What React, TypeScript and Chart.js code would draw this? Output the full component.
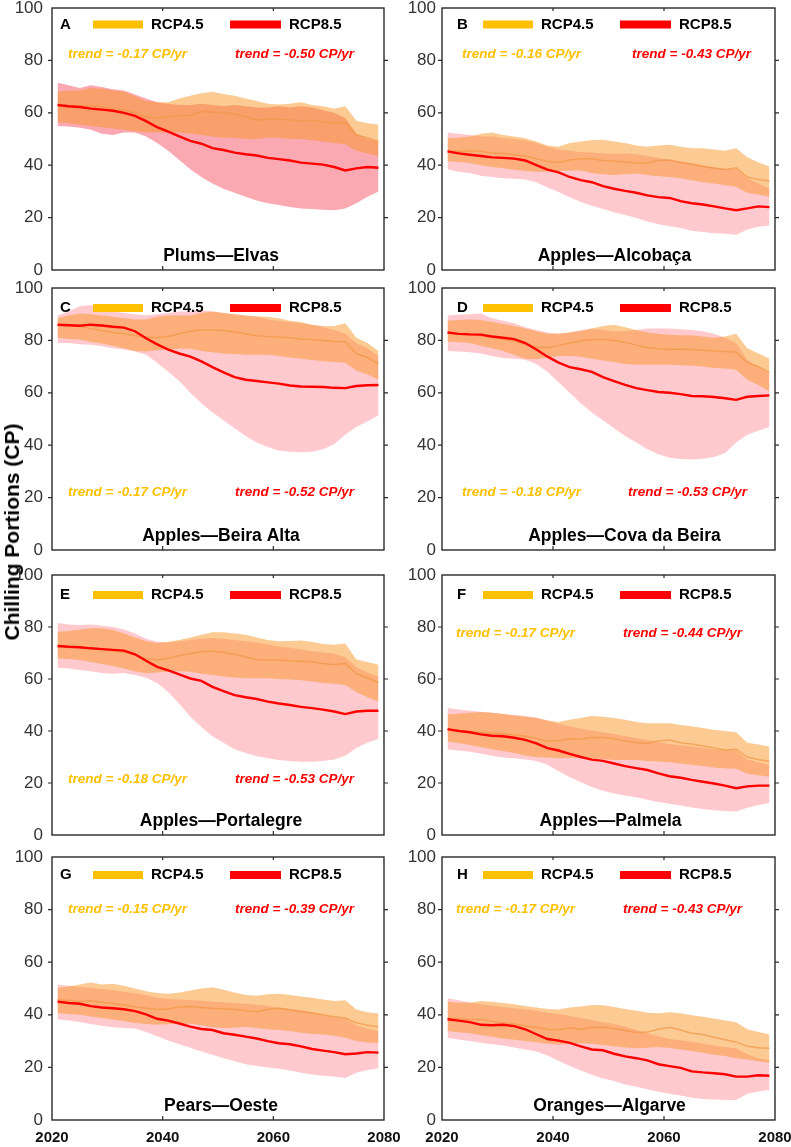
import React, { useEffect, useRef } from "react";
import { Chart, registerables } from "chart.js";
Chart.register(...registerables);

// ---------- DATA ----------
const years = [2021, 2023, 2025, 2027, 2029, 2031, 2033, 2035, 2037, 2039, 2041, 2043, 2045, 2047, 2049, 2051, 2053, 2055, 2057, 2059, 2061, 2063, 2065, 2067, 2069, 2071, 2073, 2075, 2077, 2079];
const xTickValues = [2020, 2040, 2060, 2080];
const yTickValues = [0, 20, 40, 60, 80, 100];

// A  Plums—Elvas
const aMid85 = [63, 62.5, 62.2, 61.6, 61.2, 60.8, 60, 58.8, 56.8, 54.5, 52.8, 51, 49.3, 48.2, 46.5, 45.8, 44.8, 44.2, 43.7, 42.8, 42.3, 41.8, 41, 40.6, 40.2, 39.3, 38, 38.8, 39.3, 39];
const aHigh85 = [71.5, 70.5, 69.5, 70.5, 69.8, 69, 68.5, 67, 65.5, 64, 63.5, 63, 63, 63.5, 63, 62.5, 63, 62.5, 62, 62, 62.5, 62, 62.5, 62, 61, 60, 58, 52, 50, 49];
const aLow85 = [55, 54.8, 54.3, 53.5, 52, 51.5, 52.5, 52.5, 51, 48.5, 45.5, 42, 38.5, 35.5, 33, 31, 29.5, 28, 26.5, 25.5, 24.8, 24, 23.5, 23.3, 23, 22.8, 23.5, 25.5, 28, 30];
const aMid45 = [62.8, 62.5, 62.5, 62.8, 62.3, 61.5, 61, 60, 58.5, 58, 58.5, 59, 59, 60.5, 60.3, 60, 59.5, 58.5, 57.3, 57.5, 57.5, 57.3, 57, 57.2, 56.5, 56, 56.3, 51.5, 50.5, 49];
const aHigh45 = [68, 68.5, 68.5, 69.5, 69.3, 68.5, 68, 66.5, 64.5, 64, 64, 65.5, 66.5, 67.5, 68, 67.2, 66.5, 65.5, 64.5, 63.5, 63.2, 63.5, 64, 63, 62.5, 61.5, 62.5, 57, 56, 55.5];
const aLow45 = [56.5, 56, 55.5, 55, 54.5, 54, 53.5, 53, 52.5, 52.5, 52.5, 52.5, 52, 51.5, 51, 50.5, 50.5, 50, 50, 50.5, 50.5, 50, 50, 49.5, 49, 48.5, 48, 45.5, 44.5, 43.5];

// B  Apples—Alcobaça
const bMid85 = [45.3, 44.5, 44, 43.5, 43, 42.8, 42.5, 41.8, 40, 38.3, 37.3, 35.5, 34.3, 33.5, 32, 31, 30.2, 29.5, 28.5, 27.8, 27.5, 26.3, 25.5, 25, 24.3, 23.5, 22.8, 23.5, 24.3, 24];
const bHigh85 = [52.5, 52, 51.5, 51, 51, 50.5, 50, 49.5, 48.5, 47, 46, 45.5, 45, 44.8, 44.5, 44.5, 44.5, 44.2, 43.5, 42.8, 42, 41.5, 40.8, 40, 39.3, 38.7, 38.5, 35, 33, 31];
const bLow85 = [38.5, 37.5, 37, 36, 35.5, 35, 34.8, 34.5, 33.5, 31.5, 29.8, 27.8, 26, 24.5, 23.3, 22, 21, 19.8, 18.5, 17.5, 16.7, 16, 15, 14.5, 14, 13.8, 13.5, 15.5, 16.5, 17];
const bMid45 = [45.3, 45.3, 45.5, 45.3, 44.7, 44.5, 44, 43.5, 42.5, 41.5, 41, 42, 42.5, 42.5, 41.8, 41.5, 41.2, 40.8, 40.8, 41.8, 42, 41, 40.3, 39.5, 38.8, 38.3, 39, 35.5, 34.5, 34];
const bHigh45 = [50.3, 50.5, 51, 52, 52.5, 51.5, 51, 50.3, 49, 47.5, 47, 48.5, 49, 49.5, 49.7, 49, 48.5, 47.5, 47, 47.5, 47.8, 47, 46.5, 46.5, 46, 45.5, 46.5, 43, 41, 39.5];
const bLow45 = [41.5, 41.2, 40.8, 40, 39.3, 38.8, 38.3, 37.8, 37.5, 37.5, 37.8, 38, 38, 37, 36.5, 36.3, 36.5, 36.8, 36.3, 35.8, 35.5, 35, 34.3, 33.5, 33, 32.3, 31.8, 29.5, 28.8, 28];

// C  Apples—Beira Alta
const cMid85 = [86, 85.8, 85.6, 86, 85.7, 85.2, 84.9, 83.5, 80.8, 78.5, 76.5, 75, 73.8, 72, 69.8, 67.8, 66, 65, 64.5, 64, 63.5, 62.8, 62.4, 62.3, 62.2, 61.9, 61.8, 62.6, 62.9, 63];
const cHigh85 = [89.5, 91, 93, 93.5, 92, 91, 90.5, 90, 89.5, 90, 90.5, 91, 91, 91.5, 91, 90.5, 90, 89.5, 89, 88, 87.5, 87, 86.5, 86, 85, 84, 82.5, 79, 77, 74];
const cLow85 = [79, 79, 78.5, 78.3, 77.8, 77, 76.5, 75.8, 74.5, 71.5, 68, 64.5, 60, 56, 52.5, 49.5, 46.5, 43.5, 41, 39.3, 38, 37.5, 37.3, 37.5, 38.5, 40.5, 44, 47, 49, 51.5];
const cMid45 = [86, 85.8, 85.4, 84.5, 83.8, 83, 82.5, 81.8, 81.3, 81, 81.5, 82.5, 83.5, 84, 84, 83.8, 83.2, 82.5, 81.8, 81.5, 81.3, 81, 80.5, 80.3, 80, 79.6, 79.5, 75, 73.5, 71];
const cHigh45 = [88.5, 89.5, 90.3, 90, 89.5, 89, 88.5, 88, 88, 89, 89.5, 89.5, 89.5, 90.5, 91, 90.5, 90, 89.5, 89.2, 89, 88.5, 87.5, 87, 86, 85.5, 85.5, 86.5, 81, 79, 76];
const cLow45 = [81, 80.5, 80.3, 79.5, 78.8, 78, 77, 76, 75.8, 76.2, 76.5, 76.8, 76.8, 76, 75.5, 75, 74.8, 74.5, 74.5, 74.5, 74, 73.5, 73, 72.5, 72, 71.8, 71.5, 68.5, 67, 65];

// D  Apples—Cova da Beira
const dMid85 = [83, 82.5, 82.3, 82.2, 81.5, 81, 80.5, 79, 76.5, 73.8, 71.5, 69.8, 69, 68, 66, 64.5, 63, 61.8, 61, 60.3, 60, 59.5, 58.8, 58.7, 58.4, 57.9, 57.3, 58.5, 58.8, 59];
const dHigh85 = [89.5, 89.8, 90, 90.3, 88.5, 87.5, 86.5, 85, 84, 83, 82.5, 83, 84, 84.5, 84, 83.5, 83.5, 84, 84.5, 84.5, 84.5, 84.3, 84, 83.5, 82.5, 81, 79, 72.5, 70, 67.5];
const dLow85 = [76, 75.8, 75.5, 75, 74, 73.3, 73, 72.6, 71, 68, 64, 60, 56, 52.5, 49.5, 46.5, 43.5, 41, 38.5, 36.5, 35.2, 34.7, 34.5, 34.8, 35.5, 37, 41, 44, 45.5, 47];
const dMid45 = [82.8, 82.5, 82.2, 81.8, 81.2, 80.5, 79.8, 78.5, 77.5, 77.2, 78, 79, 79.8, 80.3, 80.3, 80, 79.3, 78.2, 77.2, 76.8, 76.5, 76.7, 76.5, 76.2, 76, 75.8, 75.5, 71.5, 70, 67.8];
const dHigh45 = [87.5, 87.8, 88, 87.8, 87, 86.3, 85.5, 84.5, 83.5, 82.5, 82.5, 83, 83.5, 84.5, 85.5, 86, 85, 84, 83, 82.5, 82.2, 82, 82, 81.5, 81, 81.5, 82.5, 77, 75, 73];
const dLow45 = [79.6, 79.3, 79, 78, 77, 76, 74.5, 73, 72.8, 73.5, 74, 74, 73.8, 73, 72.3, 71.8, 71, 70.7, 70.7, 70.7, 70.7, 70.5, 70.3, 70, 69.5, 69.3, 68.8, 65, 63, 60.5];

// E  Apples—Portalegre
const eMid85 = [72.7, 72.4, 72.2, 71.8, 71.5, 71.2, 70.9, 69.5, 67, 64.7, 63.3, 61.8, 60.2, 59.3, 57, 55.3, 53.8, 53, 52.3, 51.3, 50.6, 50, 49.3, 48.8, 48.2, 47.5, 46.5, 47.5, 47.8, 47.8];
const eHigh85 = [81.5, 81, 80.8, 81, 80.5, 80, 79, 77.5, 75.5, 74.3, 74, 74.5, 75, 75.5, 75.8, 75.5, 75, 74.5, 74, 73.5, 72.5, 72, 71.3, 70.7, 70.2, 69.7, 68.5, 64.5, 62.5, 61];
const eLow85 = [64.3, 64, 63.5, 63, 62.3, 62, 62.3, 61.5, 60.5, 58.5, 55, 50.5, 45.5, 41.5, 38, 35.5, 33, 31.5, 30.3, 29.5, 28.8, 28.5, 28.2, 28.2, 28.5, 29, 30.5, 33.5, 35.5, 37];
const eMid45 = [72.5, 72.3, 72.2, 71.8, 71.3, 70.8, 70.3, 69.3, 67.8, 67.3, 68, 69, 69.8, 70.5, 70.8, 70.2, 69.5, 68.5, 67.5, 67.3, 67.3, 67, 66.8, 66.6, 66, 65.5, 66, 62, 60.5, 58.5];
const eHigh45 = [78.2, 78.5, 79, 79.5, 79.5, 78.8, 77.5, 76, 74.5, 73.8, 74.3, 75, 76, 77, 78, 78, 77.5, 77, 76, 75, 74.5, 74.6, 74.8, 74.2, 73.5, 73.2, 73.7, 67.5, 66.5, 65.5];
const eLow45 = [68, 67.7, 67.3, 66.5, 65.8, 65, 64, 63, 62.2, 62.5, 62.8, 63, 62.8, 62, 61.5, 61, 60.6, 60.3, 60.3, 60.3, 60, 59.8, 59.5, 59, 58.5, 58.2, 57.7, 55, 53, 51.3];

// F  Apples—Palmela
const fMid85 = [40.7, 40, 39.5, 38.7, 38.2, 38, 37.4, 36.6, 35.2, 33.4, 32.5, 31.2, 30, 29, 28.5, 27.5, 26.5, 25.7, 25, 23.7, 22.6, 22, 21.2, 20.5, 19.8, 19, 18, 18.7, 19, 19];
const fHigh85 = [48.8, 48.3, 47.8, 47.4, 47, 46.5, 46.2, 45.8, 45.2, 44, 42.8, 41.8, 41, 40.2, 39.5, 38.8, 38, 37.3, 36.5, 35.8, 35, 34.5, 34, 33.5, 33, 32.7, 32.5, 29, 28, 27];
const fLow85 = [33, 32.5, 32, 31.3, 30.5, 29.8, 29.5, 29, 28.5, 27, 24.5, 22.3, 20.3, 18.5, 17, 16, 15.2, 14.5, 13.6, 12.7, 12, 11.3, 10.6, 10, 9.5, 9.2, 9, 10.5, 11.5, 12.3];
const fMid45 = [40.5, 40.2, 39.8, 39.5, 39.2, 38.9, 38.5, 38, 37.2, 36, 36.3, 37, 36.8, 37.5, 37.5, 37, 36.2, 35.5, 35.3, 36.2, 36.5, 35.5, 35, 34.2, 33.5, 32.7, 33, 30, 29, 28.3];
const fHigh45 = [46.3, 46.6, 47, 47.3, 47, 46.5, 46, 45.5, 45, 44, 43.5, 44.3, 45, 45.8, 45.5, 45, 44.3, 43.5, 43, 43, 43, 42.3, 41.8, 41.2, 40.5, 40, 39.5, 35.5, 34.8, 34];
const fLow45 = [36, 35.4, 34.6, 33.8, 33, 32.3, 31.5, 30.6, 30, 29.8, 29.5, 29.6, 29.8, 29.5, 29.1, 28.8, 28.8, 28.8, 28.5, 28.3, 28, 27.5, 27, 26.5, 26, 25.6, 25.5, 23.7, 23, 22.4];

// G  Pears—Oeste
const gMid85 = [45, 44.5, 44.2, 43.3, 42.8, 42.5, 42.1, 41.4, 40.2, 38.5, 37.8, 36.7, 35.5, 34.6, 34.2, 33, 32.4, 31.7, 31, 30, 29.2, 28.8, 28, 27, 26.4, 25.8, 25, 25.3, 25.8, 25.6];
const gHigh85 = [51.5, 51, 50.6, 50.2, 49.8, 49.4, 48.8, 48.2, 47.5, 46.5, 46, 45.8, 45.6, 45.3, 45, 44.8, 44.5, 44.2, 43.8, 43.3, 42.8, 42.3, 41.8, 41, 40, 39.2, 38.5, 36, 34.8, 33.8];
const gLow85 = [38.3, 37.8, 37.3, 36.5, 35.8, 35.3, 35, 34.8, 33.5, 31.8, 30.2, 28.8, 27.5, 26, 24.8, 23.5, 22.3, 21.2, 20.5, 20, 19.5, 18.8, 18, 17.3, 16.8, 16.5, 16, 18, 19, 19.7];
const gMid45 = [45.7, 45.4, 45.1, 45.3, 44.8, 44.3, 43.8, 43.1, 42.5, 42, 42.2, 43, 43.2, 42.8, 42.5, 42.3, 42, 41.5, 41.2, 42, 42.5, 41.8, 41.2, 40.7, 40, 39.3, 38.8, 37, 36, 35.5];
const gHigh45 = [50.2, 50.8, 51.5, 52.3, 51.5, 51.8, 51, 50, 49, 48.3, 48, 48.5, 49.2, 50, 50.5, 49.5, 48.5, 47.5, 47.2, 47.8, 48, 47.5, 47, 46.5, 45.8, 45.2, 45.5, 42, 41, 40.5];
const gLow45 = [40.7, 40.3, 40, 39.4, 38.8, 38.2, 37.6, 36.9, 36.5, 36.2, 36.4, 36.6, 36.6, 36, 35.3, 35, 35.2, 35.4, 35, 34.5, 34.2, 33.8, 33.2, 32.8, 32.5, 32, 31.3, 30, 29.5, 29.2];

// H  Oranges—Algarve
const hMid85 = [38.3, 37.8, 37.2, 36.2, 36, 36.2, 35.7, 34.5, 32.6, 30.8, 30.2, 29.3, 28, 26.8, 26.5, 25.2, 24.2, 23.5, 22.7, 21.2, 20.5, 19.8, 18.5, 18.1, 17.8, 17.4, 16.5, 16.5, 17, 16.8];
const hHigh85 = [46.3, 45.5, 44.8, 44, 43.5, 43, 42.5, 42.1, 41.5, 40.8, 40.3, 39.5, 38.8, 38, 37.2, 36.5, 35.5, 34.3, 33, 31.8, 30.8, 30.3, 29.8, 29, 28.3, 27.8, 27.3, 25, 23.5, 22.8];
const hLow85 = [31.2, 30.6, 30, 29.4, 28.8, 28.3, 27.6, 26.8, 26, 24.5, 22.5, 20.5, 18.8, 17.2, 15.8, 14.8, 13.5, 12.6, 11.7, 10.7, 10, 9.3, 8.5, 8, 7.8, 7.6, 7.6, 10, 10.8, 11.4];
const hMid45 = [38.7, 38.5, 38.2, 38.3, 37.5, 36.9, 36.5, 35.7, 35.2, 34.5, 34.3, 35, 34.5, 35.2, 35.3, 34.8, 34, 33.3, 33.5, 34.5, 35.3, 34.2, 33, 32.5, 31.5, 30.5, 29.7, 28, 27.5, 27.3];
const hHigh45 = [45, 44.6, 44.5, 45.2, 45, 44.5, 44, 43.3, 42.8, 42.2, 42, 42.8, 43.2, 43.7, 43.6, 43, 42.2, 41.5, 40.8, 40.6, 41, 40.6, 39.8, 39.3, 38.6, 37.8, 37.2, 34.5, 33.5, 32.5];
const hLow45 = [33.8, 33.4, 33, 32.3, 31.7, 31, 30.5, 30, 29.6, 29, 28.7, 29, 29.2, 29, 28.5, 28, 27.6, 27.3, 27.5, 27.8, 27.4, 26.8, 26.2, 25.6, 24.8, 24.3, 23.5, 23, 22.3, 21.8];

const panelLetters = ["A", "B", "C", "D", "E", "F", "G", "H"];
const panelTitles = ["Plums—Elvas", "Apples—Alcobaça", "Apples—Beira Alta", "Apples—Cova da Beira", "Apples—Portalegre", "Apples—Palmela", "Pears—Oeste", "Oranges—Algarve"];
const trend45 = ["-0.17", "-0.16", "-0.17", "-0.18", "-0.18", "-0.17", "-0.15", "-0.17"];
const trend85 = ["-0.50", "-0.43", "-0.52", "-0.53", "-0.53", "-0.44", "-0.39", "-0.43"];
const trendLevel = [82.5, 82.5, 22, 22, 21.5, 77.5, 80, 80];
const legendLabels = ["RCP4.5", "RCP8.5"];
const yAxisTitle = "Chilling Portions (CP)";

const seriesByPanel = [
  [aMid45, aLow45, aHigh45, aMid85, aLow85, aHigh85],
  [bMid45, bLow45, bHigh45, bMid85, bLow85, bHigh85],
  [cMid45, cLow45, cHigh45, cMid85, cLow85, cHigh85],
  [dMid45, dLow45, dHigh45, dMid85, dLow85, dHigh85],
  [eMid45, eLow45, eHigh45, eMid85, eLow85, eHigh85],
  [fMid45, fLow45, fHigh45, fMid85, fLow85, fHigh85],
  [gMid45, gLow45, gHigh45, gMid85, gLow85, gHigh85],
  [hMid45, hLow45, hHigh45, hMid85, hLow85, hHigh85],
];

// ---------- LAYOUT / STYLE ----------
const FONT = "'Liberation Sans', Arial, Helvetica, sans-serif";
const PAD_TOP = 22;
const X_AXIS_H = 22;
const COLS = [
  { left: 0, width: 410, axisW: 52, padRight: 26, tickPad: 9, letterDx: 8 },
  { left: 395, width: 396, axisW: 47, padRight: 16, tickPad: 6, letterDx: 15 },
];
const ROWS = [
  { top: 8, bottom: 270, legendDy: 16.5 },
  { top: 288, bottom: 550, legendDy: 20 },
  { top: 575, bottom: 835, legendDy: 20 },
  { top: 857, bottom: 1120, legendDy: 18 },
];
const TREND_DX = [[16, 183], [20, 190], [16, 183], [20, 186], [16, 183], [14, 181], [16, 183], [14, 181]];
const TITLE_DX = [3, 6, 3, 16, 3, 2, 3, 1];
const PINK = "rgba(255,120,130,0.4)";
const PINK_A = "rgba(245,75,95,0.48)";
const ORANGE_BAND = "rgba(250,150,40,0.5)";
const ORANGE_LINE = "rgba(242,150,70,0.7)";
const RED = "#ff0000";
const GOLD = "#ffc000";

function toXY(vals: number[]) {
  return vals.map((v, i) => ({ x: years[i], y: v }));
}

function Panel({ index }: { index: number }) {
  const ref = useRef<HTMLCanvasElement | null>(null);
  const col = COLS[index % 2];
  const rowIdx = Math.floor(index / 2);
  const row = ROWS[rowIdx];
  const isBottom = rowIdx === 3;
  const canvasTop = row.top - PAD_TOP;
  const xAxisH = isBottom ? 1147 - row.bottom : X_AXIS_H;
  const canvasH = row.bottom - row.top + PAD_TOP + xAxisH;

  useEffect(() => {
    const canvas = ref.current;
    if (!canvas) return;
    const [m45, l45, h45, m85, l85, h85] = seriesByPanel[index];
    const clear = "rgba(0,0,0,0)";

    const deco = {
      id: "panelDeco" + index,
      afterDraw(chart: any) {
        const { ctx, chartArea: ca } = chart;
        const x = chart.scales.x;
        const y = chart.scales.y;
        ctx.save();
        ctx.strokeStyle = "#2a2a2a";
        ctx.lineWidth = 1.4;
        ctx.strokeRect(ca.left, ca.top, ca.right - ca.left, ca.bottom - ca.top);
        ctx.lineWidth = 1.2;
        ctx.beginPath();
        [20, 40, 60, 80].forEach((v) => {
          const py = y.getPixelForValue(v);
          ctx.moveTo(ca.left - 4, py); ctx.lineTo(ca.left, py);
          ctx.moveTo(ca.right, py); ctx.lineTo(ca.right + 4, py);
        });
        [2040, 2060].forEach((v) => {
          const px = x.getPixelForValue(v);
          ctx.moveTo(px, ca.bottom); ctx.lineTo(px, ca.bottom - 4);
          ctx.moveTo(px, ca.top); ctx.lineTo(px, ca.top + 3);
        });
        ctx.stroke();

        const ly = ca.top + row.legendDy;
        ctx.textBaseline = "middle";
        ctx.textAlign = "left";
        ctx.fillStyle = "#000";
        ctx.font = `bold 15px ${FONT}`;
        ctx.fillText(panelLetters[index], ca.left + col.letterDx, ly);
        ctx.fillStyle = GOLD;
        ctx.fillRect(ca.left + 41, ly - 4, 50, 8);
        ctx.fillStyle = "#000";
        ctx.fillText(legendLabels[0], ca.left + 99, ly);
        ctx.fillStyle = RED;
        ctx.fillRect(ca.left + 178, ly - 4, 51, 8);
        ctx.fillStyle = "#000";
        ctx.fillText(legendLabels[1], ca.left + 237, ly);

        const ty = y.getPixelForValue(trendLevel[index]);
        ctx.font = `italic bold 13.5px ${FONT}`;
        ctx.fillStyle = GOLD;
        ctx.fillText(`trend = ${trend45[index]} CP/yr`, ca.left + TREND_DX[index][0], ty);
        ctx.fillStyle = RED;
        ctx.fillText(`trend = ${trend85[index]} CP/yr`, ca.left + TREND_DX[index][1], ty);

        ctx.font = `bold 17.5px ${FONT}`;
        ctx.fillStyle = "#000";
        ctx.textAlign = "center";
        ctx.fillText(panelTitles[index], (ca.left + ca.right) / 2 + TITLE_DX[index], ca.bottom - 14);
        ctx.restore();
      },
    };

    const chart = new Chart(canvas, {
      type: "line",
      data: {
        datasets: [
          { data: toXY(m85), borderColor: RED, borderWidth: 2.4, pointRadius: 0, fill: false, tension: 0 },
          { data: toXY(m45), borderColor: ORANGE_LINE, borderWidth: 1.5, pointRadius: 0, fill: false, tension: 0 },
          { data: toXY(h45), borderColor: clear, borderWidth: 0.01, pointRadius: 0, fill: false },
          { data: toXY(l45), borderColor: clear, borderWidth: 0.01, pointRadius: 0, fill: 2, backgroundColor: ORANGE_BAND },
          { data: toXY(h85), borderColor: clear, borderWidth: 0.01, pointRadius: 0, fill: false },
          { data: toXY(l85), borderColor: clear, borderWidth: 0.01, pointRadius: 0, fill: 4, backgroundColor: index === 0 ? PINK_A : PINK },
        ],
      } as any,
      options: {
        animation: false,
        responsive: false,
        maintainAspectRatio: false,
        events: [],
        layout: { padding: { top: PAD_TOP, right: col.padRight, bottom: 0, left: 0 } },
        plugins: { legend: { display: false }, tooltip: { enabled: false } },
        scales: {
          x: {
            type: "linear",
            min: 2020,
            max: 2080,
            display: true,
            grid: { display: false, drawTicks: false },
            border: { display: false },
            afterBuildTicks: (s: any) => { s.ticks = xTickValues.map((v) => ({ value: v })); },
            ticks: {
              display: isBottom,
              autoSkip: false,
              maxRotation: 0,
              padding: 9,
              color: "#111",
              font: { family: FONT, size: 15, weight: "bold" },
              callback: (v: any) => String(v),
            },
            afterFit: (s: any) => {
              s.height = xAxisH;
              s.paddingLeft = 0;
              s.paddingRight = 0;
            },
          },
          y: {
            min: 0,
            max: 100,
            grid: { display: false, drawTicks: false },
            border: { display: false },
            afterBuildTicks: (s: any) => { s.ticks = yTickValues.map((v) => ({ value: v })); },
            ticks: {
              padding: col.tickPad,
              color: "#333",
              font: { family: FONT, size: 17 },
              callback: (v: any) => String(v),
            },
            afterFit: (s: any) => { s.width = col.axisW; },
          },
        },
      } as any,
      plugins: [deco],
    });
    return () => chart.destroy();
  }, [index]);

  return (
    <canvas
      ref={ref}
      width={col.width}
      height={canvasH}
      style={{ position: "absolute", left: col.left, top: canvasTop, width: col.width, height: canvasH }}
    />
  );
}

export default function App() {
  return (
    <div style={{ position: "absolute", left: 0, top: 0, width: 791, height: 1147, background: "#fff", overflow: "hidden" }}>
      {panelLetters.map((_, i) => (
        <Panel key={i} index={i} />
      ))}
      <div
        style={{
          position: "absolute",
          left: 12,
          top: 532,
          transform: "translate(-50%, -50%) rotate(-90deg)",
          whiteSpace: "nowrap",
          fontFamily: FONT,
          fontWeight: "bold",
          fontSize: 21,
          color: "#000",
          lineHeight: "24px",
        }}
      >
        {yAxisTitle}
      </div>
    </div>
  );
}
